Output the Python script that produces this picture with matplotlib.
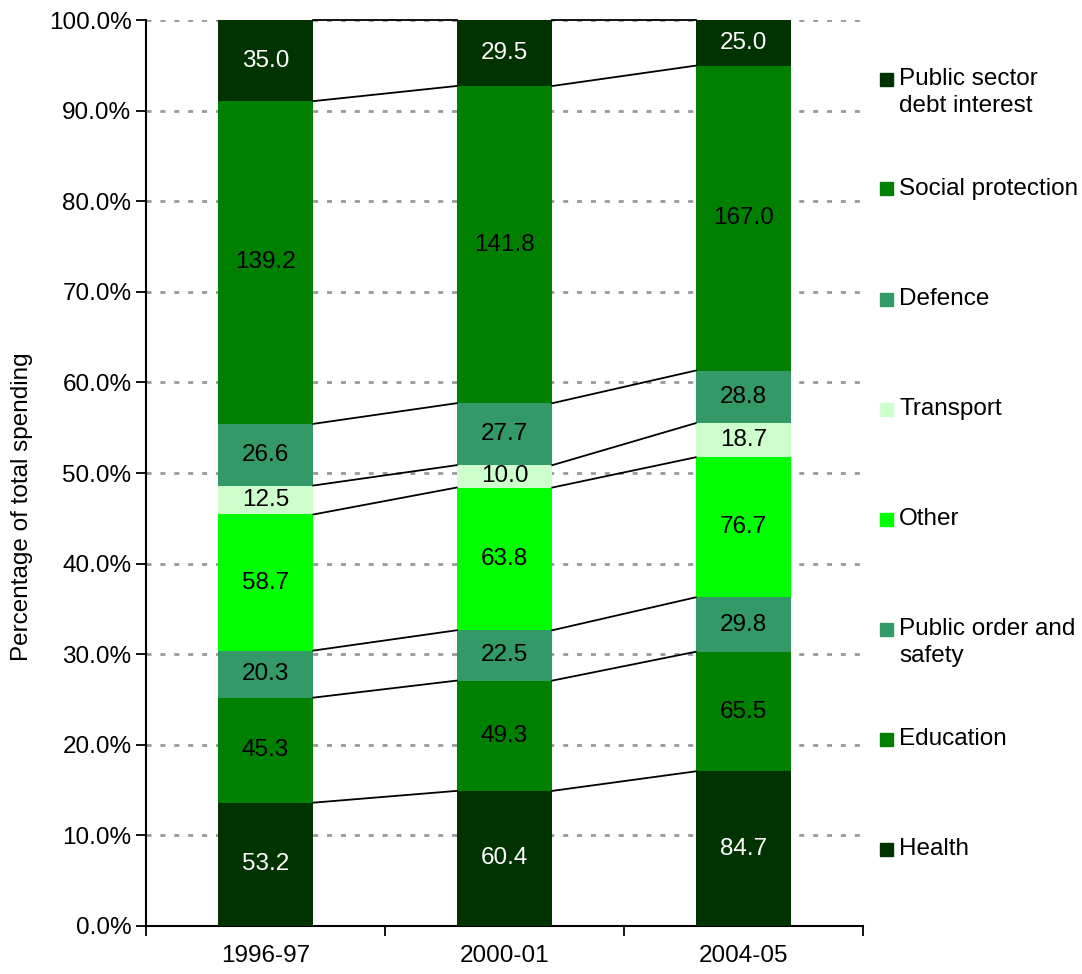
import numpy as np
import matplotlib
matplotlib.use("Agg")
import matplotlib.pyplot as plt
from matplotlib.patches import Rectangle

plt.rcParams['font.family'] = ['Liberation Sans', 'DejaVu Sans']

years = ["1996-97", "2000-01", "2004-05"]
categories = ["Health", "Education", "Public order and\nsafety", "Other",
              "Transport", "Defence", "Social protection",
              "Public sector\ndebt interest"]
health = [53.2, 60.4, 84.7]
education = [45.3, 49.3, 65.5]
public_order = [20.3, 22.5, 29.8]
other = [58.7, 63.8, 76.7]
transport = [12.5, 10.0, 18.7]
defence = [26.6, 27.7, 28.8]
social = [139.2, 141.8, 167.0]
debt = [35.0, 29.5, 25.0]

colors = ["#003300", "#008000", "#339966", "#00FF00",
          "#CCFFCC", "#339966", "#008000", "#003300"]
text_colors = ["white", "black", "black", "black",
               "black", "black", "black", "white"]

values = np.array([health, education, public_order, other,
                   transport, defence, social, debt])
pct = values / values.sum(axis=0) * 100

FS = 17.5
W, H = 1082, 974
fig = plt.figure(figsize=(W / 100, H / 100), dpi=100)
ax = fig.add_axes([146 / W, 1 - 926 / H, (863 - 146) / W, (926 - 20) / H])

x = np.arange(len(years))
width = 0.4
bottom = np.zeros(len(years))
for i in range(len(categories)):
    ax.bar(x, pct[i], width, bottom=bottom, color=colors[i], zorder=3)
    for j in range(len(years)):
        ax.text(x[j], bottom[j] + pct[i][j] / 2, f"{values[i][j]:.1f}",
                ha="center", va="center", fontsize=FS,
                color=text_colors[i], zorder=5)
    bottom = bottom + pct[i]
    # series lines between bars
    for j in range(len(years) - 1):
        ax.plot([x[j] + width / 2, x[j + 1] - width / 2],
                [bottom[j], bottom[j + 1]], color="black", lw=1.3, zorder=4,
                clip_on=False)

ax.set_xlim(-0.5, len(years) - 0.5)
ax.set_ylim(0, 100)
ax.set_yticks(np.arange(0, 101, 10))
ax.set_yticklabels([f"{v:.1f}%" for v in np.arange(0, 101, 10)])
ax.set_xticks(x)
ax.set_xticklabels(years)
ax.set_xticks(np.arange(-0.5, len(years), 1), minor=True)
ax.tick_params(axis="x", which="major", length=0, labelsize=FS, pad=14)
ax.tick_params(axis="x", which="minor", length=7, width=1.3, direction="out")
ax.tick_params(axis="y", length=7, width=1.3, direction="out", labelsize=FS)
ax.yaxis.grid(True, color="#999999", lw=2, linestyle=(0, (1.8, 3.2)), zorder=0)
ax.set_axisbelow(True)
for s in ["top", "right"]:
    ax.spines[s].set_visible(False)
ax.spines["left"].set_linewidth(1.5)
ax.spines["bottom"].set_linewidth(1.5)
ax.set_ylabel("Percentage of total spending", fontsize=FS)
ax.yaxis.set_label_coords(-0.158, 0.4625)

# legend, top entry = last category; square sits on first line of label
legend_y = [79, 189, 299, 409, 519, 629, 739, 849]
line_px = 27
for k, y in enumerate(legend_y):
    i = len(categories) - 1 - k
    nlines = categories[i].count("\n") + 1
    yf = 1 - y / H
    fig.patches.append(Rectangle((880 / W, yf - 6.5 / H), 13 / W, 13 / H,
                                 transform=fig.transFigure, color=colors[i]))
    ty = 1 - (y + (nlines - 1) * line_px / 2) / H
    fig.text(899 / W, ty, categories[i], ha="left", va="center",
             fontsize=FS, linespacing=1.3)

fig.savefig("out.png", dpi=100)
